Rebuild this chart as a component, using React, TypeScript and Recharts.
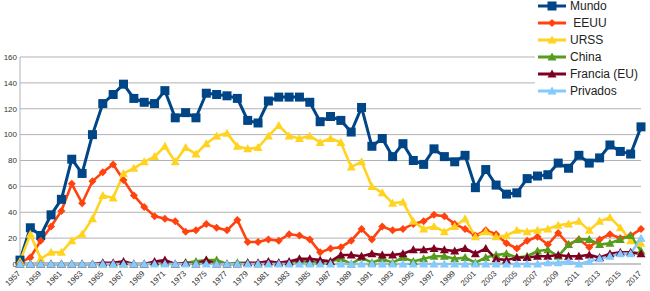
import React from 'react';
import { LineChart, Line, XAxis, YAxis, CartesianGrid, Legend } from 'recharts';

const years = [1957,1958,1959,1960,1961,1962,1963,1964,1965,1966,1967,1968,1969,1970,1971,1972,1973,1974,1975,1976,1977,1978,1979,1980,1981,1982,1983,1984,1985,1986,1987,1988,1989,1990,1991,1992,1993,1994,1995,1996,1997,1998,1999,2000,2001,2002,2003,2004,2005,2006,2007,2008,2009,2010,2011,2012,2013,2014,2015,2016,2017];

const mundo = [3,28,22,38,50,81,70,100,124,131,139,128,125,124,134,113,117,113,132,131,130,128,111,109,126,129,129,129,125,110,114,111,102,121,91,97,83,93,80,77,89,83,79,84,59,73,61,54,55,66,68,69,78,74,84,78,82,92,87,85,106];
const eeuu = [1,5,18,29,41,62,47,64,71,77,65,53,44,37,35,33,25,26,31,28,26,34,17,17,19,18,23,22,19,9,12,13,18,27,19,29,26,27,31,33,38,37,31,27,22,26,23,16,12,18,21,15,24,15,19,13,19,23,20,22,27];
const urss = [2,23,4,9,9,18,23,35,53,51,70,74,79,83,91,79,90,85,93,99,101,91,89,90,99,107,99,97,99,94,97,94,75,79,60,55,47,48,33,27,29,25,29,35,21,25,21,22,26,25,26,27,30,31,33,26,33,36,28,18,16];
const china = [0,0,0,0,0,0,0,0,0,0,0,0,0,1,1,0,1,2,3,3,0,1,1,0,1,1,1,3,1,2,2,4,0,5,1,4,1,5,2,4,6,6,4,5,1,5,7,8,5,6,10,11,6,15,19,19,15,16,19,22,10];
const francia = [0,0,0,0,0,0,0,0,1,1,2,0,0,2,3,0,1,0,3,0,0,0,1,1,2,1,2,4,4,3,2,7,7,6,8,7,7,8,11,11,12,11,10,12,8,12,4,3,5,5,6,6,7,6,6,7,5,8,9,9,8];
const privados = [0,0,0,0,0,0,0,0,0,0,0,0,0,0,0,0,0,0,0,0,0,0,0,0,0,0,0,0,0,0,0,0,0,0,0,0,0,0,0,0,0,0,0,0,0,0,0,0,0,0,0,1,1,2,0,2,4,6,8,8,20];

const xTicks = [1957,1959,1961,1963,1965,1967,1969,1971,1973,1975,1977,1979,1981,1983,1985,1987,1989,1991,1993,1995,1997,1999,2001,2003,2005,2007,2009,2011,2013,2015,2017];
const yTicks = [0,20,40,60,80,100,120,140,160];

const seriesNames = ['Mundo', ' EEUU', 'URSS', 'China', 'Francia (EU)', 'Privados'];
const seriesKeys = ['mundo', 'eeuu', 'urss', 'china', 'francia', 'privados'];
const seriesColors = ['#004586', '#ff420e', '#ffd320', '#579d1c', '#7e0021', '#83caff'];
const seriesShapes = ['square', 'diamond', 'triangle', 'triangle', 'triangle', 'triangle'];

const data = years.map((y, i) => ({
  year: y,
  mundo: mundo[i],
  eeuu: eeuu[i],
  urss: urss[i],
  china: china[i],
  francia: francia[i],
  privados: privados[i],
}));

const FONT = '"Liberation Sans", Arial, sans-serif';

function Marker({ cx, cy, shape, color }: any) {
  if (cx == null || cy == null) return null;
  if (shape === 'square') {
    return <rect x={cx - 4.5} y={cy - 4.5} width={9} height={9} fill={color} />;
  }
  if (shape === 'diamond') {
    return <polygon points={`${cx},${cy - 4} ${cx + 4},${cy} ${cx},${cy + 4} ${cx - 4},${cy}`} fill={color} />;
  }
  return <polygon points={`${cx},${cy - 4.5} ${cx + 4.5},${cy + 3.5} ${cx - 4.5},${cy + 3.5}`} fill={color} />;
}

const XTick = (props: any) => {
  const { x, y, payload } = props;
  const ax = x + 1;
  const ay = y + 10;
  return (
    <text x={ax} y={ay} transform={`rotate(-45 ${ax} ${ay})`} textAnchor="end" fontSize={8} fill="#333" fontFamily={FONT}>
      {payload.value}
    </text>
  );
};

const LegendBox = () => (
  <svg width={115} height={102} style={{ display: 'block', background: '#fff' }}>
    {seriesNames.map((name, i) => {
      const cy = 6 + i * 17;
      return (
        <g key={name}>
          <line x1={3} y1={cy} x2={31} y2={cy} stroke={seriesColors[i]} strokeWidth={3} />
          <Marker cx={17} cy={cy} shape={seriesShapes[i]} color={seriesColors[i]} />
          <text x={35} y={cy} dominantBaseline="central" fontSize={12} fill="#222" fontFamily={FONT} style={{ whiteSpace: 'pre' }}>
            {name}
          </text>
        </g>
      );
    })}
  </svg>
);

export default function App() {
  return (
    <div style={{ position: 'absolute', left: 0, top: 0, width: 650, height: 291, background: '#fff' }}>
      <LineChart width={650} height={291} data={data} margin={{ top: 57, right: 9, bottom: 0, left: 0 }}>
        <CartesianGrid vertical={false} stroke="#b3b3b3" />
        <XAxis
          dataKey="year"
          type="number"
          domain={[1957, 2017]}
          ticks={xTicks}
          interval={0}
          tick={<XTick />}
          tickLine={false}
          tickSize={0}
          tickMargin={0}
          axisLine={{ stroke: '#b3b3b3' }}
          height={27}
        />
        <YAxis
          domain={[0, 160]}
          ticks={yTicks}
          interval={0}
          width={20}
          tickLine={false}
          tickSize={0}
          tickMargin={3}
          axisLine={{ stroke: '#b3b3b3' }}
          tick={{ fontSize: 8, fill: '#333', fontFamily: FONT }}
        />
        <YAxis
          yAxisId="r"
          orientation="right"
          domain={[0, 160]}
          width={0}
          tick={false}
          tickLine={false}
          axisLine={{ stroke: '#b3b3b3' }}
        />
        <Legend
          layout="horizontal"
          verticalAlign="middle"
          align="center"
          content={<LegendBox />}
          wrapperStyle={{ position: 'absolute', left: 535, top: 0, width: 115, height: 102, margin: 0, padding: 0 }}
        />
        {seriesKeys.map((k, i) => (
          <Line
            key={k}
            type="linear"
            dataKey={k}
            name={seriesNames[i]}
            stroke={seriesColors[i]}
            strokeWidth={i === 0 ? 3 : 2.6}
            isAnimationActive={false}
            activeDot={false}
            dot={(p: any) => (
              <Marker key={`${k}-${p.index}`} cx={p.cx} cy={p.cy} shape={seriesShapes[i]} color={seriesColors[i]} />
            )}
          />
        ))}
      </LineChart>
    </div>
  );
}
